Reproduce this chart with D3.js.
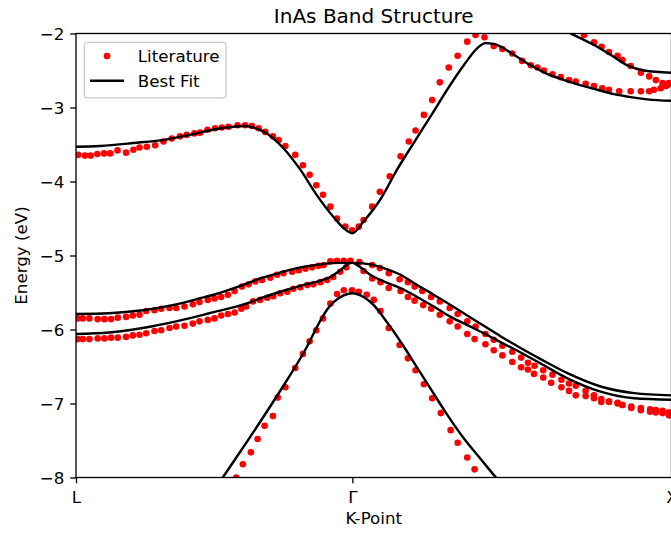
<!DOCTYPE html>
<html>
<head>
<meta charset="utf-8">
<script src="https://cdn.jsdelivr.net/npm/d3@7"></script>
<style>
  html, body { margin: 0; padding: 0; background: #fff; }
  svg { display: block; }
  text { font-family: "DejaVu Sans", sans-serif; fill: #000; }
</style>
</head>
<body>
<svg id="chart" width="671" height="534"></svg>
<script>
// ---- k-path ticks (L -> Gamma -> X) and energy ticks ----
const kTicks = [0, 0.866, 1.866];
const kLabels = ["L", "Γ", "X"];
const eTicks = [-8, -7, -6, -5, -4, -3, -2];

// ---- literature band energies, [k, E (eV)] ----
const litSO = [
  [0.502,-8.00],[0.523,-7.82],[0.548,-7.66],[0.569,-7.48],[0.591,-7.30],[0.617,-7.17],
  [0.632,-6.92],[0.656,-6.78],[0.687,-6.52],[0.711,-6.33],[0.732,-6.16],[0.753,-6.01],
  [0.774,-5.85],[0.797,-5.65],[0.818,-5.52],[0.839,-5.47],[0.865,-5.47],[0.886,-5.49],
  [0.911,-5.53],[0.933,-5.60],[0.954,-5.75],[0.980,-5.98],[1.014,-6.21],[1.040,-6.39],
  [1.064,-6.55],[1.090,-6.74],[1.116,-6.93],[1.143,-7.13],[1.174,-7.36],[1.196,-7.53],
  [1.226,-7.73],[1.249,-7.89]
];
const litLH = [
  [0.005,-6.13],[0.021,-6.13],[0.042,-6.13],[0.068,-6.12],[0.089,-6.12],[0.110,-6.11],
  [0.131,-6.11],[0.157,-6.10],[0.178,-6.08],[0.199,-6.07],[0.220,-6.05],[0.246,-6.02],
  [0.267,-6.01],[0.293,-5.98],[0.314,-5.96],[0.340,-5.95],[0.366,-5.92],[0.387,-5.89],
  [0.413,-5.87],[0.434,-5.85],[0.455,-5.81],[0.476,-5.79],[0.497,-5.77],[0.518,-5.72],
  [0.533,-5.69],[0.555,-5.62],[0.577,-5.60],[0.599,-5.57],[0.618,-5.55],[0.640,-5.51],
  [0.662,-5.49],[0.681,-5.45],[0.703,-5.43],[0.725,-5.40],[0.744,-5.39],[0.766,-5.36],
  [0.787,-5.33],[0.806,-5.29],[0.828,-5.22],[0.847,-5.16],
  [0.901,-5.21],[0.928,-5.31],[0.954,-5.36],[0.980,-5.44],[1.017,-5.48],[1.040,-5.56],
  [1.061,-5.61],[1.088,-5.67],[1.113,-5.72],[1.140,-5.80],[1.171,-5.89],[1.196,-5.96],
  [1.226,-6.06],[1.249,-6.13],[1.283,-6.20],[1.309,-6.28],[1.336,-6.35],[1.367,-6.44],
  [1.395,-6.51],[1.416,-6.54],[1.435,-6.60],[1.464,-6.65],[1.489,-6.72],[1.521,-6.78],
  [1.545,-6.83],[1.566,-6.89],[1.597,-6.90],[1.623,-6.93],[1.646,-6.98],[1.670,-6.98],
  [1.697,-7.00],[1.712,-7.02],[1.740,-7.06],[1.770,-7.09],[1.799,-7.11],[1.817,-7.12],
  [1.838,-7.13],[1.858,-7.16]
];
const litHH = [
  [0.005,-5.85],[0.021,-5.85],[0.042,-5.85],[0.068,-5.86],[0.089,-5.86],[0.110,-5.86],
  [0.131,-5.84],[0.157,-5.83],[0.178,-5.81],[0.199,-5.80],[0.220,-5.75],[0.246,-5.74],
  [0.267,-5.72],[0.293,-5.71],[0.314,-5.71],[0.340,-5.69],[0.366,-5.66],[0.387,-5.63],
  [0.413,-5.60],[0.434,-5.58],[0.455,-5.56],[0.476,-5.53],[0.497,-5.48],[0.520,-5.42],
  [0.541,-5.39],[0.562,-5.35],[0.583,-5.33],[0.609,-5.30],[0.630,-5.26],[0.650,-5.24],
  [0.677,-5.22],[0.698,-5.20],[0.719,-5.18],[0.740,-5.16],[0.760,-5.14],[0.776,-5.13],
  [0.797,-5.08],[0.818,-5.07],[0.839,-5.07],[0.860,-5.07],
  [0.888,-5.09],[0.928,-5.13],[0.952,-5.17],[0.980,-5.24],[1.014,-5.32],[1.040,-5.36],
  [1.061,-5.42],[1.085,-5.48],[1.113,-5.56],[1.140,-5.62],[1.171,-5.71],[1.196,-5.79],
  [1.226,-5.89],[1.252,-5.96],[1.283,-6.06],[1.309,-6.14],[1.336,-6.22],[1.367,-6.30],
  [1.395,-6.38],[1.416,-6.45],[1.437,-6.49],[1.464,-6.55],[1.493,-6.61],[1.521,-6.68],
  [1.545,-6.73],[1.566,-6.76],[1.597,-6.83],[1.623,-6.89],[1.646,-6.94],[1.670,-6.97],
  [1.697,-6.99],[1.712,-7.02],[1.740,-7.04],[1.770,-7.06],[1.799,-7.08],[1.817,-7.09],
  [1.838,-7.10],[1.858,-7.12]
];
const litCB = [
  [0.007,-3.64],[0.028,-3.65],[0.046,-3.65],[0.067,-3.63],[0.088,-3.62],[0.107,-3.62],
  [0.130,-3.58],[0.157,-3.61],[0.180,-3.57],[0.199,-3.54],[0.222,-3.53],[0.248,-3.51],
  [0.274,-3.46],[0.300,-3.42],[0.326,-3.39],[0.347,-3.37],[0.371,-3.35],[0.389,-3.34],
  [0.412,-3.30],[0.436,-3.28],[0.457,-3.27],[0.478,-3.26],[0.506,-3.24],[0.530,-3.24],
  [0.551,-3.25],[0.572,-3.28],[0.593,-3.33],[0.617,-3.39],[0.635,-3.44],[0.656,-3.52],
  [0.687,-3.64],[0.711,-3.78],[0.732,-3.91],[0.753,-4.05],[0.774,-4.18],[0.797,-4.34],
  [0.818,-4.50],[0.844,-4.61],[0.865,-4.66],
  [0.886,-4.61],[0.901,-4.52],[0.928,-4.34],[0.952,-4.14],[0.983,-3.93],[1.017,-3.66],
  [1.043,-3.46],[1.064,-3.31],[1.090,-3.10],[1.116,-2.90],[1.140,-2.66],[1.168,-2.46],
  [1.196,-2.30],[1.226,-2.11],[1.252,-2.02],[1.280,-2.05],[1.309,-2.17],[1.336,-2.21],
  [1.367,-2.27],[1.398,-2.37],[1.425,-2.43],[1.446,-2.46],[1.466,-2.50],[1.493,-2.55],
  [1.519,-2.59],[1.545,-2.63],[1.566,-2.65],[1.597,-2.68],[1.623,-2.71],[1.649,-2.74],
  [1.670,-2.76],[1.702,-2.78],[1.738,-2.78],[1.770,-2.78],[1.796,-2.78],[1.811,-2.76],
  [1.832,-2.74],[1.848,-2.71],[1.858,-2.67]
];
const litCBup = [
  [1.592,-2.02],[1.623,-2.12],[1.647,-2.18],[1.670,-2.25],[1.697,-2.30],[1.712,-2.36],
  [1.738,-2.44],[1.770,-2.53],[1.796,-2.58],[1.817,-2.63],[1.838,-2.67],[1.853,-2.70]
];

// ---- fitted bands, [k, E (eV)] ----
const fitSO = [
  [0.440,-8.13],[0.460,-8.00],[0.546,-7.45],[0.650,-6.76],[0.719,-6.27],[0.771,-5.84],
  [0.787,-5.73],[0.807,-5.63],[0.839,-5.54],[0.866,-5.51],[0.901,-5.56],[0.933,-5.67],
  [0.964,-5.84],[0.996,-6.03],[1.027,-6.23],[1.064,-6.48],[1.111,-6.80],[1.163,-7.15],
  [1.215,-7.47],[1.268,-7.75],[1.320,-8.02],[1.345,-8.14]
];
const fitLH = [
  [0,-6.06],[0.104,-6.04],[0.209,-5.98],[0.314,-5.89],[0.418,-5.78],[0.533,-5.65],
  [0.577,-5.58],[0.640,-5.49],[0.703,-5.41],[0.766,-5.34],[0.797,-5.29],[0.828,-5.20],
  [0.854,-5.11],[0.866,-5.10],[0.881,-5.13],[0.922,-5.26],[0.964,-5.35],[1.017,-5.44],
  [1.069,-5.56],[1.121,-5.69],[1.174,-5.83],[1.226,-5.94],[1.278,-6.05],[1.330,-6.17],
  [1.393,-6.31],[1.456,-6.46],[1.540,-6.66],[1.644,-6.84],[1.749,-6.93],[1.866,-6.95]
];
const fitHH = [
  [0,-5.79],[0.104,-5.78],[0.209,-5.74],[0.314,-5.66],[0.387,-5.58],[0.439,-5.52],
  [0.515,-5.41],[0.577,-5.31],[0.640,-5.23],[0.703,-5.16],[0.766,-5.12],[0.828,-5.10],
  [0.866,-5.10],[0.922,-5.12],[0.964,-5.17],[1.017,-5.26],[1.069,-5.40],[1.121,-5.53],
  [1.174,-5.67],[1.226,-5.81],[1.278,-5.95],[1.330,-6.09],[1.393,-6.25],[1.456,-6.40],
  [1.540,-6.59],[1.644,-6.77],[1.749,-6.86],[1.866,-6.89]
];
const fitCB = [
  [0,-3.53],[0.075,-3.52],[0.180,-3.48],[0.285,-3.43],[0.389,-3.34],[0.441,-3.29],
  [0.494,-3.26],[0.525,-3.25],[0.556,-3.27],[0.598,-3.35],[0.650,-3.55],[0.703,-3.84],
  [0.754,-4.18],[0.807,-4.48],[0.839,-4.63],[0.866,-4.70],[0.901,-4.54],[0.954,-4.24],
  [1.006,-3.84],[1.058,-3.48],[1.111,-3.12],[1.163,-2.76],[1.215,-2.43],[1.257,-2.20],
  [1.283,-2.13],[1.309,-2.14],[1.373,-2.29],[1.425,-2.43],[1.478,-2.55],[1.530,-2.63],
  [1.582,-2.70],[1.634,-2.76],[1.686,-2.82],[1.738,-2.86],[1.790,-2.89],[1.866,-2.91]
];
const fitCBup = [
  [1.487,-1.88],[1.550,-2.00],[1.623,-2.155],[1.676,-2.29],[1.728,-2.43],[1.780,-2.50],
  [1.866,-2.53]
];

const literature = [litSO, litLH, litHH, litCB, litCBup];
const fits = [fitSO, fitLH, fitHH, fitCB, fitCBup];

// ---- layout ----
const svg = d3.select("#chart");
const W = 671, H = 534;
const box = { left: 76, right: 671.5, top: 33.5, bottom: 477.5 };
const fs = 16.7;

svg.append("rect").attr("width", W).attr("height", H).attr("fill", "#fff");

const x = d3.scaleLinear().domain([kTicks[0], kTicks[2]]).range([box.left, box.right]);
const y = d3.scaleLinear().domain([-8, -2]).range([box.bottom, box.top]);

svg.append("defs").append("clipPath").attr("id", "plotClip")
  .append("rect")
  .attr("x", box.left).attr("y", box.top)
  .attr("width", box.right - box.left).attr("height", box.bottom - box.top);

const plot = svg.append("g").attr("clip-path", "url(#plotClip)");

// literature points
literature.forEach(band => {
  plot.append("g").selectAll("circle").data(band).join("circle")
    .attr("cx", d => x(d[0]))
    .attr("cy", d => y(d[1]))
    .attr("r", 3.3)
    .attr("fill", "#ff0000");
});

// fitted curves
const line = d3.line().x(d => x(d[0])).y(d => y(d[1])).curve(d3.curveMonotoneX);
fits.forEach(band => {
  plot.append("path").datum(band)
    .attr("d", line)
    .attr("fill", "none")
    .attr("stroke", "#000")
    .attr("stroke-width", 2.4)
    .attr("stroke-linejoin", "round");
});

// axes
const yAxis = d3.axisLeft(y).tickValues(eTicks).tickSize(5.8).tickPadding(5.8)
  .tickFormat(d3.format("d"));
const gy = svg.append("g").attr("transform", `translate(${box.left},0)`).call(yAxis);
gy.select(".domain").remove();
gy.selectAll("line").attr("stroke", "#000").attr("stroke-width", 1.33);
gy.selectAll("text").attr("font-size", fs).attr("font-family", "DejaVu Sans")
  .attr("fill", "#000").attr("dy", "0.36em");

const xAxis = d3.axisBottom(x).tickValues(kTicks).tickSize(5.8).tickPadding(5.8)
  .tickFormat((d, i) => kLabels[i]);
const gx = svg.append("g").attr("transform", `translate(0,${box.bottom})`).call(xAxis);
gx.select(".domain").remove();
gx.selectAll("line").attr("stroke", "#000").attr("stroke-width", 1.33);
gx.selectAll("text").attr("font-size", fs).attr("font-family", "DejaVu Sans")
  .attr("fill", "#000").attr("y", 25.5).attr("dy", 0);

// frame
svg.append("rect")
  .attr("x", box.left).attr("y", box.top)
  .attr("width", box.right - box.left).attr("height", box.bottom - box.top)
  .attr("fill", "none").attr("stroke", "#000").attr("stroke-width", 1.33);

// titles
const cx = (box.left + box.right) / 2;
svg.append("text").attr("x", cx).attr("y", 22.7).attr("text-anchor", "middle")
  .attr("font-size", 20).text("InAs Band Structure");
svg.append("text").attr("x", cx).attr("y", 524).attr("text-anchor", "middle")
  .attr("font-size", fs).text("K-Point");
svg.append("text")
  .attr("transform", `translate(27.3,${(box.top + box.bottom) / 2}) rotate(-90)`)
  .attr("text-anchor", "middle").attr("font-size", fs).text("Energy (eV)");

// legend
const lg = svg.append("g");
lg.append("rect").attr("x", 84.3).attr("y", 42.3).attr("width", 141.7).attr("height", 55.5)
  .attr("rx", 3.3).attr("fill", "#fff").attr("fill-opacity", 0.8)
  .attr("stroke", "#cccccc").attr("stroke-width", 1.3);
lg.append("circle").attr("cx", 107).attr("cy", 56).attr("r", 3.3).attr("fill", "#ff0000");
lg.append("text").attr("x", 137.8).attr("y", 61.8).attr("font-size", fs).text("Literature");
lg.append("line").attr("x1", 90).attr("x2", 124).attr("y1", 80.7).attr("y2", 80.7)
  .attr("stroke", "#000").attr("stroke-width", 2.4);
lg.append("text").attr("x", 137.8).attr("y", 87.2).attr("font-size", fs).text("Best Fit");
</script>
</body>
</html>
